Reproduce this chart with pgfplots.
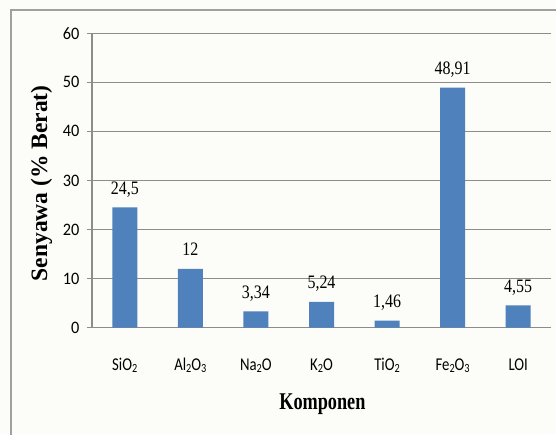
\documentclass[border=0pt]{standalone}
\usepackage{pgfplots}
\pgfplotsset{compat=1.18}
\usepackage{fontspec}
\setmainfont{Liberation Serif}
\newfontfamily\carl[FakeStretch=0.93]{Carlito}
\newfontfamily\carlx[FakeStretch=0.82]{Carlito}
\newfontfamily\timx[FakeStretch=0.84]{Liberation Serif}
\newfontfamily\timlab[FakeStretch=0.76]{Liberation Serif}
\newcommand\sub[1]{\raisebox{-0.2ex}{\fontsize{12.5}{12.5}\selectfont #1}}
\definecolor{barblue}{HTML}{4F81BD}
\definecolor{gridgray}{HTML}{8C8C8C}
\definecolor{framegray}{HTML}{A0A0A0}
\definecolor{bgcol}{HTML}{FCFCF8}
\begin{document}
\begin{tikzpicture}
\useasboundingbox (0,0) rectangle (556pt,434pt);
\fill[bgcol] (0,0) rectangle (556pt,434pt);
\draw[framegray, line width=1.8pt] (11pt,-5pt) -- (11pt,424pt) -- (565pt,424pt);
\begin{axis}[
  at={(92pt,106.3pt)}, anchor=south west,
  scale only axis, width=459pt, height=294.5pt,
  ybar, bar width=25pt,
  xmin=-0.5, xmax=6.5, ymin=0, ymax=60,
  ytick={0,10,...,60},
  xtick={0,...,6},
  xticklabels={SiO\sub{2}, Al\sub{2}O\sub{3}, Na\sub{2}O, K\sub{2}O, TiO\sub{2}, Fe\sub{2}O\sub{3}, LOI},
  major x tick style={draw=none},
  extra x ticks={-0.5,0.5,1.5,2.5,3.5,4.5,5.5,6.5},
  extra x tick labels={},
  extra x tick style={grid=none, major tick style={draw=gridgray, line width=0.9pt}},
  axis x line*=bottom, axis y line*=left,
  axis line style={-, draw=gridgray, line width=1.1pt},
  tick align=outside, major tick length=5pt,
  tick style={draw=gridgray, line width=0.9pt},
  ymajorgrids, grid style={draw=gridgray, line width=1.1pt},
  /pgf/number format/assume math mode=true,
  yticklabel style={font=\carl\fontsize{17.5}{17.5}\selectfont, anchor=east, xshift=-4pt},
  xticklabel style={font=\carlx\fontsize{18}{18}\selectfont, anchor=base, yshift=-38pt},
  ylabel={Senyawa (\% Berat)},
  ylabel style={font=\bfseries\fontsize{23.5}{24}\selectfont, at={(axis description cs:-0.11,0.49)}, anchor=center},
  xlabel={Komponen},
  xlabel style={font=\timlab\bfseries\fontsize{24}{24}\selectfont, at={(axis description cs:0.502,-0.2764)}, anchor=base},
  nodes near coords, point meta=explicit symbolic,
  every node near coord/.append style={font=\timx\fontsize{19}{19}\selectfont, anchor=base, yshift=13pt, text=black},
]
\addplot[fill=barblue, draw=none] coordinates {
  (0,24.5) [24{,}5]
  (1,12) [12]
  (2,3.34) [3{,}34]
  (3,5.24) [5{,}24]
  (4,1.46) [1{,}46]
  (5,48.91) [48{,}91]
  (6,4.55) [4{,}55]
};
\end{axis}
\end{tikzpicture}
\end{document}
